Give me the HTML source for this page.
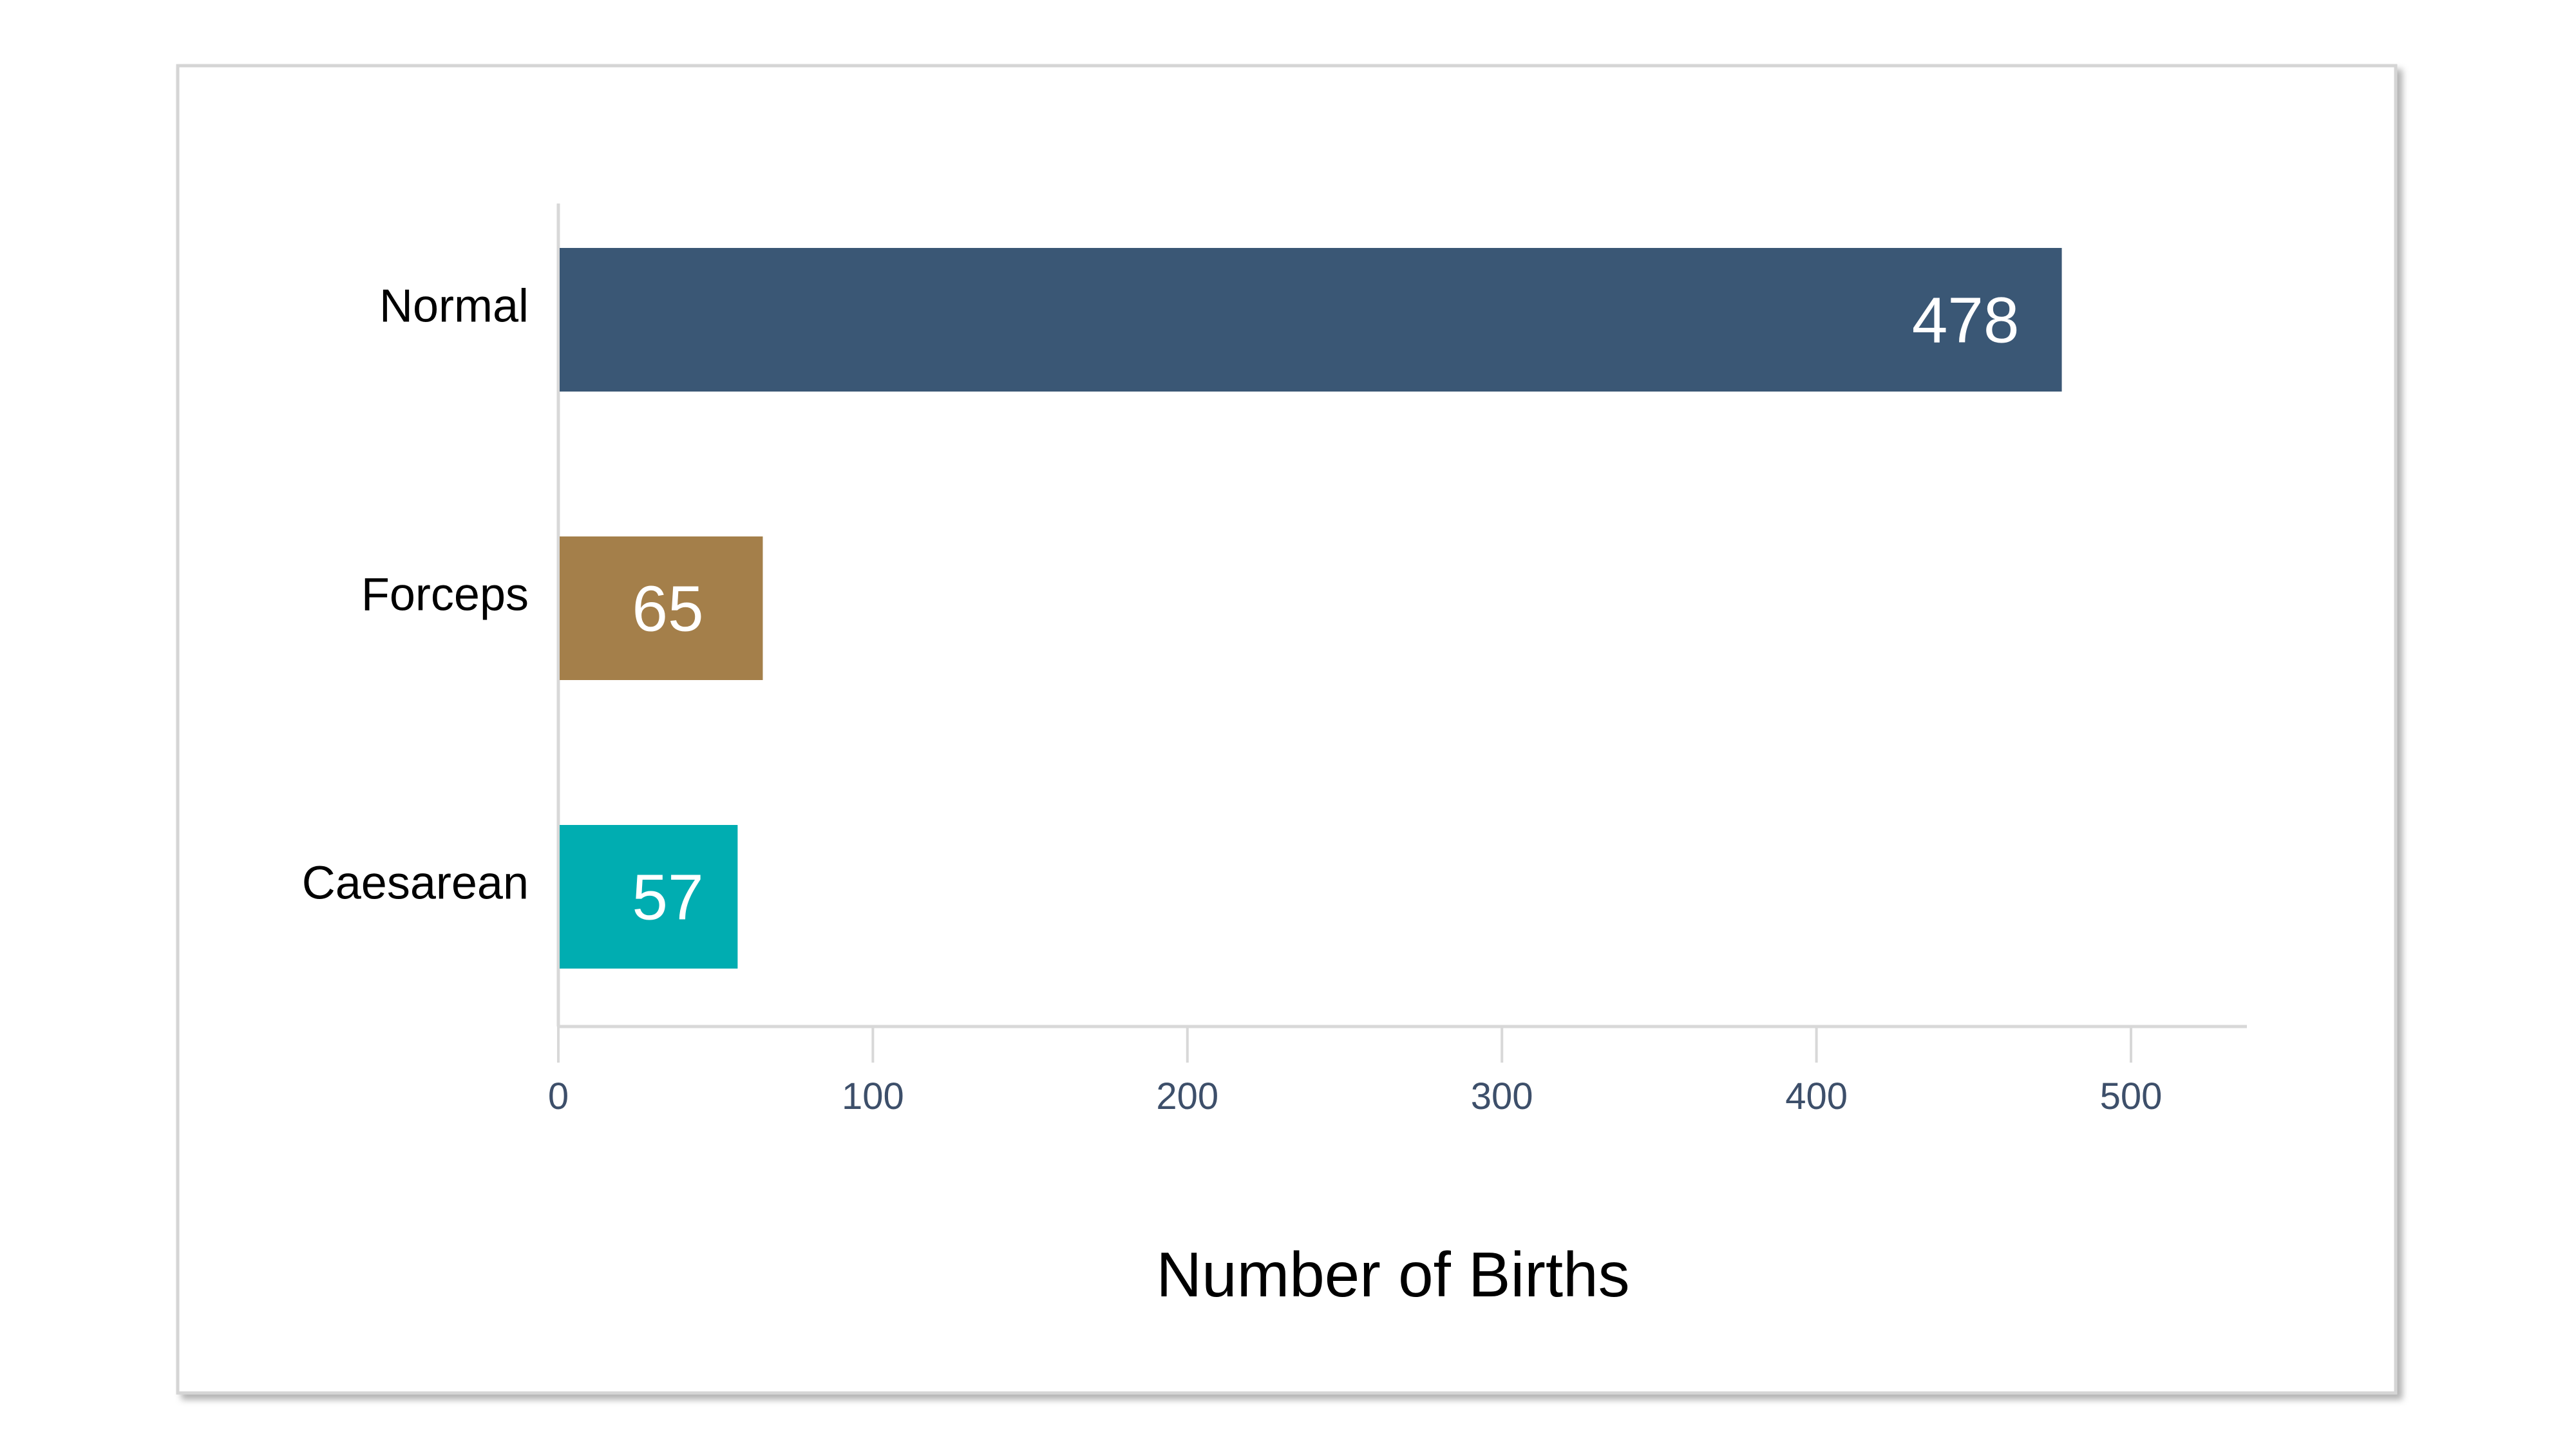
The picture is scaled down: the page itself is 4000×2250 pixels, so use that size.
<!DOCTYPE html>
<html><head><meta charset="utf-8"><style>
html,body{margin:0;padding:0;background:#fff;width:4000px;height:2250px;overflow:hidden}
svg{display:block}
text{font-family:"Liberation Sans",sans-serif}
</style></head><body>
<svg id="chart" width="4000" height="2250" viewBox="0 0 4000 2250">
<defs><filter id="sh" x="-5%" y="-5%" width="110%" height="110%"><feDropShadow dx="8" dy="8" stdDeviation="5" flood-color="#000" flood-opacity="0.3"/></filter></defs>
<rect x="276" y="102" width="3444" height="2061" fill="#fff" stroke="#d5d5d5" stroke-width="5" filter="url(#sh)"/>
<g id="plot"></g>
<text x="2163" y="2013" font-size="98" text-anchor="middle" fill="#000">Number of Births</text>
</svg>
<script>
const categories = ["Normal", "Forceps", "Caesarean"];
const values = [478, 65, 57];
const colors = ["#3a5775", "#a47f4a", "#00adb1"];
const ticks = [0, 100, 200, 300, 400, 500];

const NS = "http://www.w3.org/2000/svg";
const g = document.getElementById("plot");
const x0 = 867, x500 = 3309;
const xs = v => x0 + (x500 - x0) * v / 500;
const bandTop = 316, bandStep = 448, barH = 223, barOff = 69;
const yb = i => bandTop + barOff + i * bandStep;
function mk(tag, attrs) { const e = document.createElementNS(NS, tag); for (const k in attrs) e.setAttribute(k, attrs[k]); g.appendChild(e); return e; }

const yAxis = mk("line", {x1: x0, y1: 316, x2: x0, y2: 1594, stroke: "#d8d8d8", "stroke-width": 5});


const xAxis = mk("line", {x1: x0, y1: 1594, x2: 3489, y2: 1594, stroke: "#d8d8d8", "stroke-width": 5});



ticks.forEach(t => {
  const tl = mk("line", {x1: xs(t), y1: 1594, x2: xs(t), y2: 1650, stroke: "#d8d8d8", "stroke-width": 4});
  
  
  const tx = mk("text", {x: xs(t), y: 1722, "font-size": 58, "text-anchor": "middle", fill: "#3d4f6a"});
  tx.textContent = t;
  
  
});

categories.forEach((c, i) => {
  const y = yb(i);
  const r = mk("rect", {x: x0 + 2, y: y, width: xs(values[i]) - x0 - 2, height: barH, fill: colors[i]});
  
  
  const lab = mk("text", {x: 821, y: y + barH / 2 + 3, "font-size": 72, "text-anchor": "end", fill: "#000"});
  lab.textContent = c;
  
  
  const w = xs(values[i]) - x0;
  const big = w > 600;
  const vl = mk("text", {x: big ? xs(values[i]) - 66 : x0 + 170, y: y + barH / 2 + 35, "font-size": 100, "text-anchor": big ? "end" : "middle", fill: "#fff"});
  vl.textContent = values[i];
  
  
});
</script>
</body></html>
